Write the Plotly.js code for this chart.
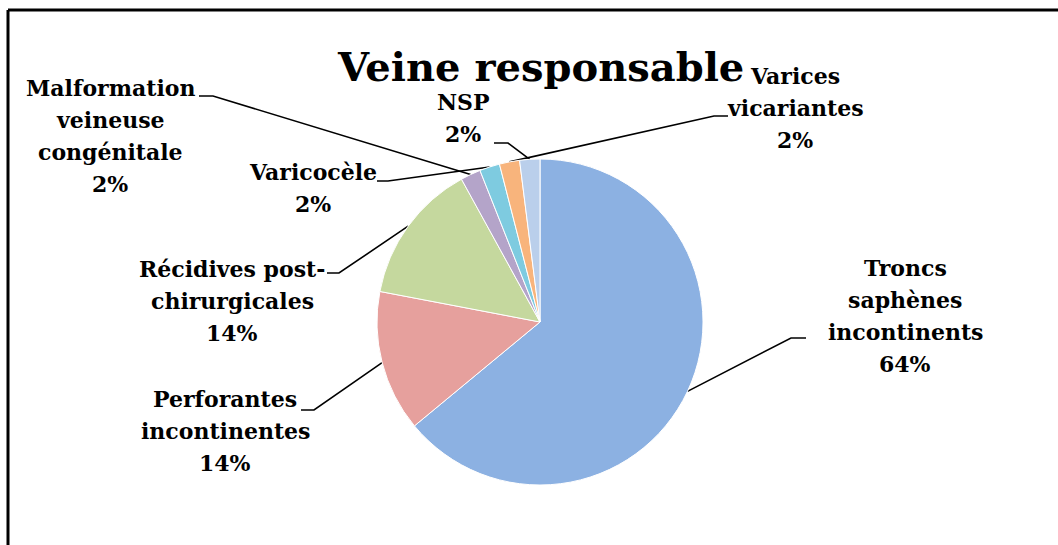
<!DOCTYPE html>
<html>
<head>
<meta charset="utf-8">
<script src="https://cdn.plot.ly/plotly-3.0.1.min.js"></script>
<style>
  html, body { margin: 0; padding: 0; background: #fff; }
  #graph { width: 1058px; height: 545px; }
</style>
</head>
<body>
<div id="graph"></div>
<script>
// data (counts, 50 cases)
const categories = [
  'Troncs saphènes incontinents',
  'Perforantes incontinentes',
  'Récidives post-chirurgicales',
  'Malformation veineuse congénitale',
  'Varicocèle',
  'Varices vicariantes',
  'NSP'
]
const counts = [32, 7, 7, 1, 1, 1, 1]
const labelLines = [
  ['Troncs', 'saphènes', 'incontinents'],
  ['Perforantes', 'incontinentes'],
  ['Récidives post-', 'chirurgicales'],
  ['Malformation', 'veineuse', 'congénitale'],
  ['Varicocèle'],
  ['Varices', 'vicariantes'],
  ['NSP']
]
const colors = ['#8cb1e2', '#e6a09d', '#c5d89e', '#b4a4c9', '#7ecbe0', '#f8b47c', '#bacfeb']

// page geometry (pixels)
const W = 1058, H = 545
const cx = 540, cy = 322, R = 163
const font = 'DejaVu Serif'
const lineGap = 32

// where each label sits (centre), and its short horizontal stub [near text, elbow]
const placement = [
  {x: 905, y: 316, stub: [[806, 338], [791, 338]]},
  {x: 225, y: 431, stub: [[301, 410], [314, 410]]},
  {x: 232, y: 301, stub: [[327, 273], [339, 273]]},
  {x: 110, y: 136, stub: [[199, 96], [213, 96]]},
  {x: 313, y: 188, stub: [[377, 181], [388, 181]]},
  {x: 795, y: 108, stub: [[728, 116], [714, 116]]},
  {x: 463, y: 118, stub: [[494, 143], [508, 143]]}
]

const total = counts.reduce((a, b) => a + b, 0)
const pct = counts.map(c => Math.round(c / total * 100) + '%')

// slice mid angles (clockwise from 12 o'clock)
let cum = 0
const edge = counts.map(c => {
  const mid = (cum + c / 2) / total * 2 * Math.PI
  cum += c
  return [cx + R * Math.sin(mid), cy - R * Math.cos(mid)]
})

const pie = {
  type: 'pie',
  values: counts,
  labels: categories,
  sort: false,
  direction: 'clockwise',
  rotation: 0,
  textinfo: 'none',
  hoverinfo: 'label+percent',
  marker: {colors: colors, line: {color: '#ffffff', width: 1}},
  domain: {
    x: [(cx - R) / W, (cx + R) / W],
    y: [(H - cy - R) / H, (H - cy + R) / H]
  },
  showlegend: false
}

const leaders = placement.map((p, i) => ({
  type: 'scatter',
  mode: 'lines',
  x: [p.stub[0][0], p.stub[1][0], edge[i][0]],
  y: [p.stub[0][1], p.stub[1][1], edge[i][1]],
  line: {color: '#000', width: 1.6},
  hoverinfo: 'skip',
  showlegend: false
}))

const annotations = []
placement.forEach((p, i) => {
  const lines = labelLines[i].concat([pct[i]])
  lines.forEach((t, k) => {
    annotations.push({
      x: p.x, y: p.y + (k - (lines.length - 1) / 2) * lineGap,
      xref: 'x', yref: 'y',
      text: t,
      showarrow: false,
      font: {family: font, size: 22, color: '#000', weight: 'bold'}
    })
  })
})

annotations.push({
  x: 540, y: 66, xref: 'x', yref: 'y',
  text: 'Veine responsable',
  showarrow: false,
  font: {family: font, size: 40, color: '#000', weight: 'bold'}
})

const layout = {
  width: W,
  height: H,
  margin: {l: 0, r: 0, t: 0, b: 0},
  paper_bgcolor: '#fff',
  plot_bgcolor: 'rgba(0,0,0,0)',
  xaxis: {range: [0, W], visible: false, fixedrange: true},
  yaxis: {range: [H, 0], visible: false, fixedrange: true},
  annotations: annotations,
  shapes: [
    {type: 'line', xref: 'x', yref: 'y', x0: 8, y0: 10, x1: W, y1: 10, line: {color: '#000', width: 3}},
    {type: 'line', xref: 'x', yref: 'y', x0: 8, y0: 10, x1: 8, y1: H, line: {color: '#000', width: 3}}
  ]
}

Plotly.newPlot('graph', leaders.concat([pie]), layout, {displayModeBar: false, staticPlot: true})
</script>
</body>
</html>
